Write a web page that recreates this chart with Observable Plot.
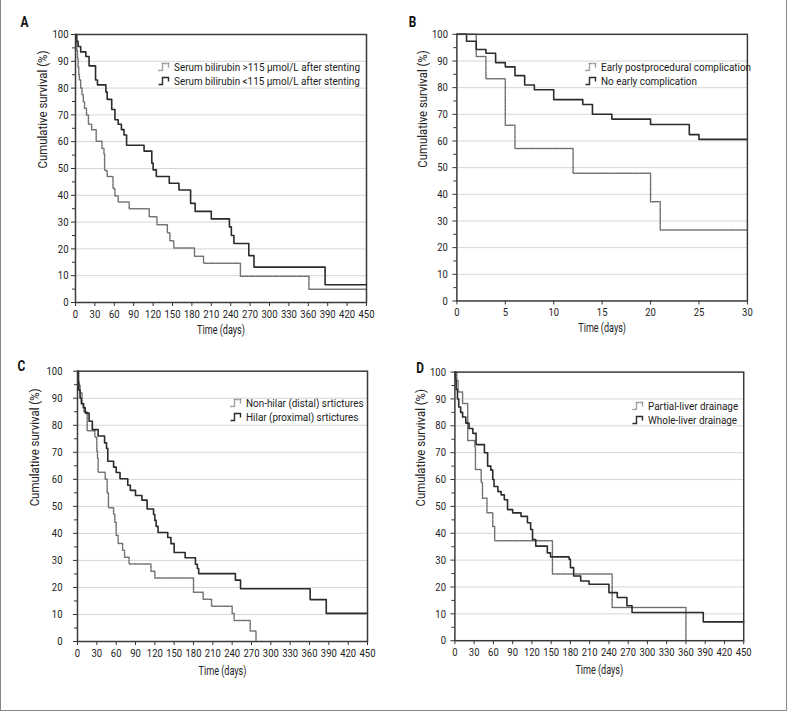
<!DOCTYPE html>
<html>
<head>
<meta charset="utf-8">
<script src="https://cdn.jsdelivr.net/npm/d3@7"></script>
<script src="https://cdn.jsdelivr.net/npm/@observablehq/plot@0.6"></script>
<style>
  html, body { margin: 0; padding: 0; background: #fff; }
  #page { position: relative; width: 787px; height: 711px; box-sizing: border-box;
          border: 1.5px solid #888; border-top: none; overflow: hidden; background: #fff;
          font-family: Roboto, 'Open Sans', sans-serif; }
  .pnl { position: absolute; }
  .legend { position: absolute; font-size: 11.8px; color: #222; line-height: 14px; white-space: nowrap; }
  .legend > div { display: flex; align-items: center; height: 14px; }
  .legend svg { margin-right: 3px; flex: none; }
  .legend span { display: inline-block; transform-origin: left center; line-height: 14px; }
</style>
</head>
<body>
<div id="page"></div>
<script>
// ---------------- Data ----------------
// Panel A: serum bilirubin after stenting
const aHighT = [0, 1, 2, 3, 4, 5, 6, 8, 10, 12, 14, 17, 20, 25, 32, 41, 44, 45, 49, 58, 61, 66, 83, 114, 126, 142, 146, 152, 184, 198, 255, 361, 450];
const aHighS = [100, 97, 94, 91, 88, 85, 83, 80, 77.5, 75, 72.5, 70, 66.5, 64.5, 60.2, 57.5, 55.5, 49.3, 47, 42.5, 39.7, 37.5, 35, 32, 29, 26, 23, 20.3, 17.3, 14.6, 9.8, 4.9, 4.9];
const aLowT = [0, 2, 4, 8, 16, 21, 31, 34, 47, 49, 56, 61, 66, 71, 75, 79, 106, 118, 120, 125, 145, 160, 178, 185, 210, 238, 241, 245, 268, 276, 386, 450];
const aLowS = [100, 97.5, 95.5, 93.5, 91.8, 88.3, 83, 81.2, 78.5, 75.8, 72, 68.2, 66.5, 64.5, 62.5, 58.7, 56.5, 52, 49.5, 47, 44.5, 42, 37, 34, 31.2, 28.2, 25, 22, 17.5, 13.2, 6.6, 6.6];
// Panel B: early complication (30 days)
const bComplT = [0, 2, 3, 5, 6, 12, 20, 21, 30];
const bComplS = [100, 91.7, 83.3, 65.9, 57.2, 47.9, 37.2, 26.6, 26.6];
const bNoneT = [0, 1, 2, 3, 4, 5, 6, 7, 8, 10, 13, 14, 16, 20, 24, 25, 30];
const bNoneS = [100, 97.4, 94.3, 92.9, 89.4, 87.8, 84.5, 81, 79.2, 75.5, 73.7, 70, 68.2, 66.2, 62.4, 60.6, 60.6];
// Panel C: stricture location
const cDistalT = [0, 2, 4, 7, 10, 15, 27, 30, 31, 32, 43, 46, 48, 56, 58, 60, 63, 70, 73, 80, 114, 120, 180, 195, 208, 240, 243, 268, 277];
const cDistalS = [100, 95, 92, 88, 85, 78, 75.6, 70.5, 68, 62.6, 60, 55, 49.5, 47, 44, 39.2, 36.3, 33.8, 31.2, 28.7, 26, 23.5, 18.2, 15.6, 13, 10.4, 7.8, 3.9, 0];
const cHilarT = [0, 1, 2, 4, 6, 9, 12, 18, 23, 32, 42, 45, 47, 56, 60, 66, 78, 82, 90, 100, 108, 118, 120, 122, 125, 140, 145, 150, 167, 183, 186, 188, 245, 253, 361, 386, 450];
const cHilarS = [100, 96, 93, 90, 88, 86.5, 84.5, 81.5, 78.4, 76, 73.5, 71.5, 66.7, 64.5, 62.5, 60.2, 57.8, 55.9, 54, 52.3, 49, 47, 44.8, 42.6, 40.3, 38.5, 36.2, 32.9, 31, 28.6, 27, 25.1, 22.7, 19.5, 15.5, 10.4, 10.4];
// Panel D: extent of drainage
const dPartialT = [0, 3, 5, 12, 20, 31, 32, 41, 43, 50, 59, 62, 152, 245, 360];
const dPartialS = [100, 97, 92.6, 88.3, 74.5, 72, 63.7, 59, 53, 47.6, 42.5, 37.2, 24.8, 12.4, 0];
const dWholeT = [0, 1, 2, 4, 6, 9, 12, 17, 22, 28, 33, 46, 51, 56, 59, 61, 67, 72, 77, 82, 90, 103, 113, 118, 121, 126, 144, 149, 178, 180, 185, 196, 209, 240, 253, 268, 276, 387, 450];
const dWholeS = [100, 97, 93.5, 90, 87, 85, 83.3, 81, 79, 77.2, 73, 70, 65, 63.5, 60, 57.4, 55.5, 54.3, 52.5, 48.8, 47.6, 46.3, 43.9, 41.4, 37.7, 35.2, 32.7, 31.2, 30.3, 27.2, 24.1, 22.2, 21, 17.9, 16.1, 13, 10.5, 7, 7];

const yTicks = [0, 10, 20, 30, 40, 50, 60, 70, 80, 90, 100];
const yMinor = [5, 15, 25, 35, 45, 55, 65, 75, 85, 95];
const gridVals = [10, 20, 30, 40, 50, 60, 70, 80, 90];
const xTicksDays = [0, 30, 60, 90, 120, 150, 180, 210, 240, 270, 300, 330, 360, 390, 420, 450];
const xTicksB = [0, 5, 10, 15, 20, 25, 30];
const yLabel = "Cumulative survival (%)";
const xLabel = "Time (days)";

// ---------------- Helpers ----------------
const FONT = "Roboto, 'Open Sans', sans-serif";
const rows = (t, s) => t.map((d, i) => ({t: d, s: s[i]}));
const page = document.getElementById("page");

// horizontal condensing factors, measured so the text widths match the condensed reference face
const ctx = document.createElement("canvas").getContext("2d");
const meas = (str, size, weight = "normal") => { ctx.font = `${weight} ${size}px ${FONT}`; return ctx.measureText(str).width; };
const TICK_SIZE = 11.5, LEG_SIZE = 11.8, LAB_SIZE = 12.5;
const safe = (v, d) => (isFinite(v) && v > 0.3 && v < 2 ? v : d);
const tickScale = safe(16 / meas("150", TICK_SIZE), 0.8);
const legScale = safe(186 / meas("Serum bilirubin >115 µmol/L after stenting", LEG_SIZE), 0.78);
const yLabScale = safe(118 / meas(yLabel, LAB_SIZE), 0.82);
const xLabScale = safe(48 / meas(xLabel, LAB_SIZE), 0.82);
const letScale = 0.85;

function squeeze(svg) {
  svg.querySelectorAll("text").forEach(t => {
    const s = t.textContent.trim();
    let k = 1;
    if (/^\d+$/.test(s)) k = tickScale;
    else if (s === yLabel) k = yLabScale;
    else if (s === xLabel) k = xLabScale;
    else if (/^[A-D]$/.test(s)) k = letScale;
    if (k === 1) return;
    const tr = t.getAttribute("transform") || "";
    const x = t.getAttribute("x");
    if (x != null && isFinite(+x)) t.setAttribute("x", +x / k);
    t.setAttribute("transform", `${tr} scale(${k},1)`.trim());
  });
}

function panel(cfg) {
  const chart = Plot.plot({
    width: cfg.w, height: cfg.h,
    marginLeft: cfg.mL, marginRight: cfg.mR, marginTop: cfg.mT, marginBottom: cfg.mB,
    style: {fontFamily: FONT, fontSize: TICK_SIZE + "px", color: "#222", background: "transparent", overflow: "visible"},
    x: {domain: cfg.xDomain, label: null},
    y: {domain: [0, 100], label: null},
    marks: [
      Plot.gridY(gridVals, {stroke: "#d6d6d6", strokeOpacity: 1, strokeWidth: 1}),
      Plot.axisY(yTicks, {tickSize: 4, tickPadding: cfg.yPad, fontSize: TICK_SIZE, stroke: "#333", label: null}),
      Plot.axisY(yMinor, {tickSize: 3, text: null, stroke: "#333", label: null}),
      Plot.axisX(cfg.xTicks, {tickSize: 4, tickPadding: 3, fontSize: TICK_SIZE, stroke: "#333", label: null}),
      Plot.line(rows(cfg.dotT, cfg.dotS), {x: "t", y: "s", curve: "step-after", stroke: "#6e6e6e", strokeWidth: 1.5, strokeDasharray: "1.2,1.2"}),
      Plot.line(rows(cfg.solT, cfg.solS), {x: "t", y: "s", curve: "step-after", stroke: "#2b2b2b", strokeWidth: 1.6}),
      Plot.frame({stroke: "#3a3a3a", strokeWidth: 1.5}),
      Plot.text([xLabel], {frameAnchor: "bottom", dy: cfg.xLabDy, fontSize: LAB_SIZE, fill: "#222"}),
      Plot.text([yLabel], {frameAnchor: "left", rotate: -90, dx: cfg.yLabDx, fontSize: LAB_SIZE, fill: "#222"}),
      Plot.text([cfg.letter], {frameAnchor: "top-left", textAnchor: "middle", lineAnchor: "middle", dx: cfg.letDx, dy: cfg.letDy, fontSize: 14, fontWeight: "bold", fill: "#111"})
    ]
  });
  squeeze(chart);
  const wrap = document.createElement("div");
  wrap.className = "pnl";
  wrap.style.left = cfg.left + "px";
  wrap.style.top = cfg.top + "px";
  wrap.appendChild(chart);
  page.appendChild(wrap);

  const icon = (dotted) => `<svg width="13" height="10"><path d="M0.5,8.5 H4.5 V1.5 H10.5 V5.5" fill="none" stroke="${dotted ? "#6e6e6e" : "#2b2b2b"}" stroke-width="1.4" ${dotted ? 'stroke-dasharray="1.2,0.8"' : ""}/></svg>`;
  const lg = document.createElement("div");
  lg.className = "legend";
  lg.style.left = cfg.legX + "px";
  lg.style.top = cfg.legY + "px";
  const sp = (txt) => `<span style="transform:scaleX(${legScale})">${txt}</span>`;
  lg.innerHTML = `<div>${icon(true)}${sp(cfg.dotName)}</div><div>${icon(false)}${sp(cfg.solName)}</div>`;
  page.appendChild(lg);
}

panel({left: 0, top: 0, w: 393, h: 350, mL: 74, mR: 28, mT: 34, mB: 48,
  xDomain: [0, 450], xTicks: xTicksDays, yPad: 3, xLabDy: 31, yLabDx: -33, letter: "A", letDx: -51, letDy: -12,
  dotT: aHighT, dotS: aHighS, solT: aLowT, solS: aLowS,
  dotName: "Serum bilirubin >115 µmol/L after stenting", solName: "Serum bilirubin <115 µmol/L after stenting",
  legX: 157, legY: 60});

panel({left: 393, top: 0, w: 394, h: 350, mL: 62.7, mR: 39.3, mT: 34, mB: 48,
  xDomain: [0, 30], xTicks: xTicksB, yPad: 5, xLabDy: 31, yLabDx: -34, letter: "B", letDx: -44.7, letDy: -12,
  dotT: bComplT, dotS: bComplS, solT: bNoneT, solS: bNoneS,
  dotName: "Early postprocedural complication", solName: "No early complication",
  legX: 584, legY: 60});

panel({left: 0, top: 350, w: 393, h: 361, mL: 76, mR: 27, mT: 20.7, mB: 70,
  xDomain: [0, 450], xTicks: xTicksDays, yPad: 11, xLabDy: 33, yLabDx: -43, letter: "C", letDx: -56, letDy: -5,
  dotT: cDistalT, dotS: cDistalS, solT: cHilarT, solS: cHilarS,
  dotName: "Non-hilar (distal) srtictures", solName: "Hilar (proximal) srtictures",
  legX: 229, legY: 396});

panel({left: 393, top: 350, w: 394, h: 361, mL: 60.7, mR: 43, mT: 21.7, mB: 69.3,
  xDomain: [0, 450], xTicks: xTicksDays, yPad: 5, xLabDy: 33, yLabDx: -34, letter: "D", letDx: -35, letDy: -4,
  dotT: dPartialT, dotS: dPartialS, solT: dWholeT, solS: dWholeS,
  dotName: "Partial-liver drainage", solName: "Whole-liver drainage",
  legX: 631, legY: 399});
</script>
</body>
</html>
